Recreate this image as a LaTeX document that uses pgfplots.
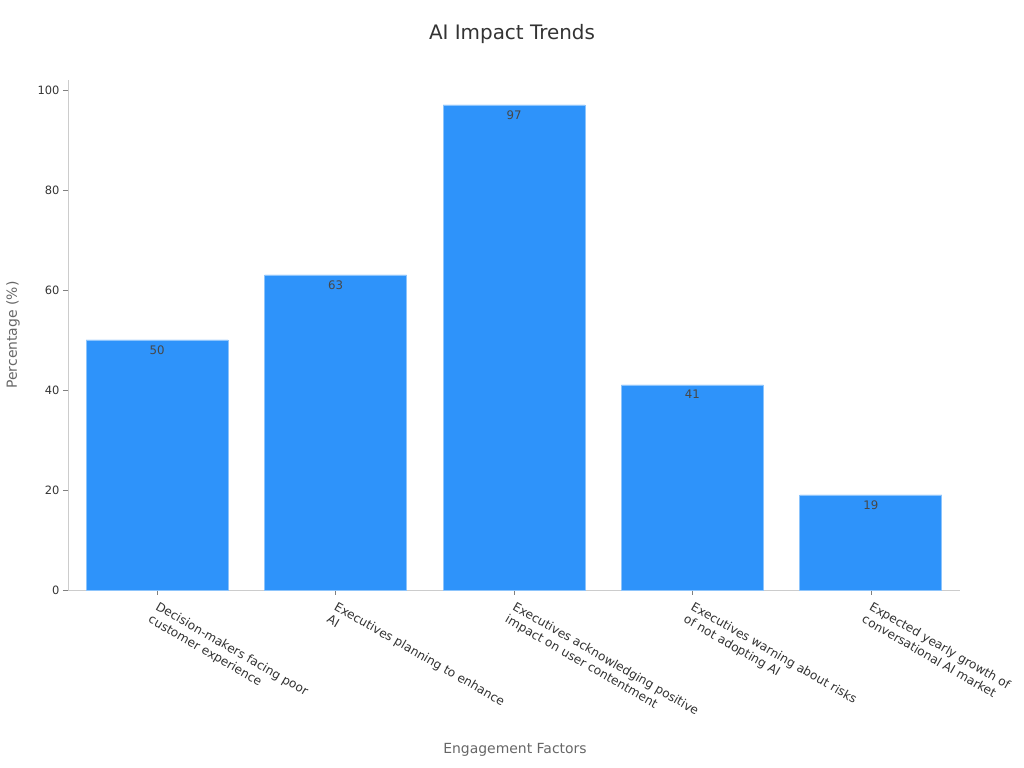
\documentclass[border=0pt]{standalone}
\usepackage{pgfplots}
\pgfplotsset{compat=1.18}
\usepackage{fontspec}
\setmainfont{DejaVu Sans}
\definecolor{barblue}{HTML}{2E93FA}
\definecolor{baredge}{HTML}{8CC4FC}
\definecolor{txt}{HTML}{333333}
\definecolor{lbl}{HTML}{666666}
\definecolor{spine}{HTML}{CCCCCC}
\begin{document}
\begin{tikzpicture}[x=1bp,y=1bp]
\path[use as bounding box] (0,0) rectangle (1024,768);
\begin{axis}[
  at={(68bp,178bp)}, anchor=south west,
  scale only axis, width=892bp, height=510bp,
  xmin=-0.5, xmax=4.5, ymin=0, ymax=102,
  axis x line*=bottom, axis y line*=left,
  axis line style={spine, line width=0.8pt},
  xtick={0,1,2,3,4},
  xticklabels={{Decision-makers facing poor\\customer experience},{Executives planning to enhance\\AI},{Executives acknowledging positive\\impact on user contentment},{Executives warning about risks\\of not adopting AI},{Expected yearly growth of\\conversational AI market}},
  ytick={0,20,40,60,80,100},
  tick align=outside,
  major tick length=5bp,
  tick style={color=gray, line width=0.6pt},
  xticklabel style={rotate=-30, anchor=north west, align=left, font=\fontsize{12.2}{14.8}\selectfont, text=txt, inner sep=1pt, yshift=-3bp, xshift=4bp},
  yticklabel style={font=\fontsize{11.5}{13}\selectfont, text=txt},
  /pgf/number format/assume math mode=true,
  ybar, bar width=142bp,
  nodes near coords,
  every node near coord/.append style={anchor=north, yshift=-4bp, inner sep=1pt, font=\fontsize{11.8}{13}\selectfont, text=txt!90},
  clip=false,
]
\addplot[fill=barblue, draw=baredge, line width=0.8pt] coordinates {(0,50) (1,63) (2,97) (3,41) (4,19)};
\end{axis}
\node[text=txt, font=\fontsize{20}{24}\selectfont] at (512,734) {AI Impact Trends};
\node[text=lbl, font=\fontsize{14}{17}\selectfont] at (515,18) {Engagement Factors};
\node[text=lbl, font=\fontsize{14}{17}\selectfont, rotate=90] at (13,433) {Percentage (\%)};
\end{tikzpicture}
\end{document}
